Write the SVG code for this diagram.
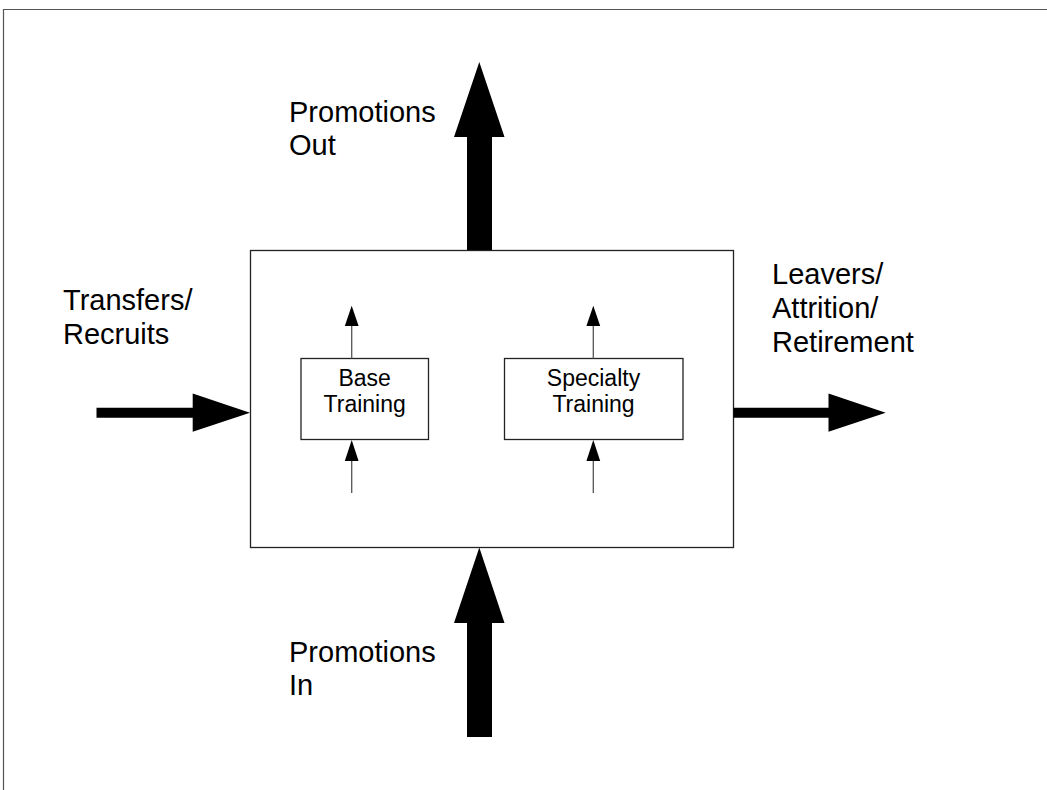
<svg xmlns="http://www.w3.org/2000/svg" width="1047" height="790" viewBox="0 0 1047 790">
<style>
.lbl{font-family:"Liberation Sans",Arial,sans-serif;font-size:29px;fill:#000}
.sm{font-family:"Liberation Sans",Arial,sans-serif;font-size:23px;fill:#000;text-anchor:middle}
.box{fill:#fff;stroke:#222;stroke-width:1.3}
.thin{stroke:#555;stroke-width:1.3;fill:none}
.big{fill:#000;stroke:none}
.head{fill:#000}
</style>
<rect width="1047" height="790" fill="#fff"/>
<g id="frame">
<path d="M3.5 790 V9.5 H1047" fill="none" stroke="#555" stroke-width="1.2"/>
</g>
<g id="system">
<rect class="box" x="250.5" y="250.5" width="483" height="297"/>
</g>
<g id="base-training">
<rect class="box" x="301" y="358.5" width="127.5" height="81"/>
<text class="sm" x="364.7" y="386">Base</text>
<text class="sm" x="364.7" y="412">Training</text>
</g>
<g id="specialty-training">
<rect class="box" x="504.5" y="358.5" width="178.5" height="81"/>
<text class="sm" x="593.5" y="386">Specialty</text>
<text class="sm" x="593.5" y="412">Training</text>
</g>
<g id="labels">
<text class="lbl" x="289" y="122">Promotions</text>
<text class="lbl" x="289" y="155">Out</text>
<text class="lbl" x="63" y="310">Transfers/</text>
<text class="lbl" x="63" y="344">Recruits</text>
<text class="lbl" x="772" y="284">Leavers/</text>
<text class="lbl" x="772" y="318">Attrition/</text>
<text class="lbl" x="772" y="352">Retirement</text>
<text class="lbl" x="289" y="662">Promotions</text>
<text class="lbl" x="289" y="695">In</text>
</g>
<g id="connectors">
<polygon class="big" points="467,250 467,137 454,137 479.3,62 504.5,137 492,137 492,250"/>
<polygon class="big" points="467,737 467,623 454,623 479.3,547.5 504.5,623 492,623 492,737"/>
<polygon class="big" points="96.5,407.7 192.7,407.7 192.7,393.5 250,412.7 192.7,431.7 192.7,417.7 96.5,417.7"/>
<polygon class="big" points="733.5,407.7 828.5,407.7 828.5,393.5 885.7,412.7 828.5,431.7 828.5,417.7 733.5,417.7"/>
<line class="thin" x1="351.7" y1="358.5" x2="351.7" y2="326"/>
<polygon class="head" points="351.7,305.7 344.8,326 358.6,326"/>
<line class="thin" x1="351.7" y1="493" x2="351.7" y2="461"/>
<polygon class="head" points="351.7,440 344.8,461 358.6,461"/>
<line class="thin" x1="593.3" y1="358.5" x2="593.3" y2="326"/>
<polygon class="head" points="593.3,305.7 586.4,326 600.2,326"/>
<line class="thin" x1="593.3" y1="493" x2="593.3" y2="461"/>
<polygon class="head" points="593.3,440 586.4,461 600.2,461"/>
</g>
</svg>
